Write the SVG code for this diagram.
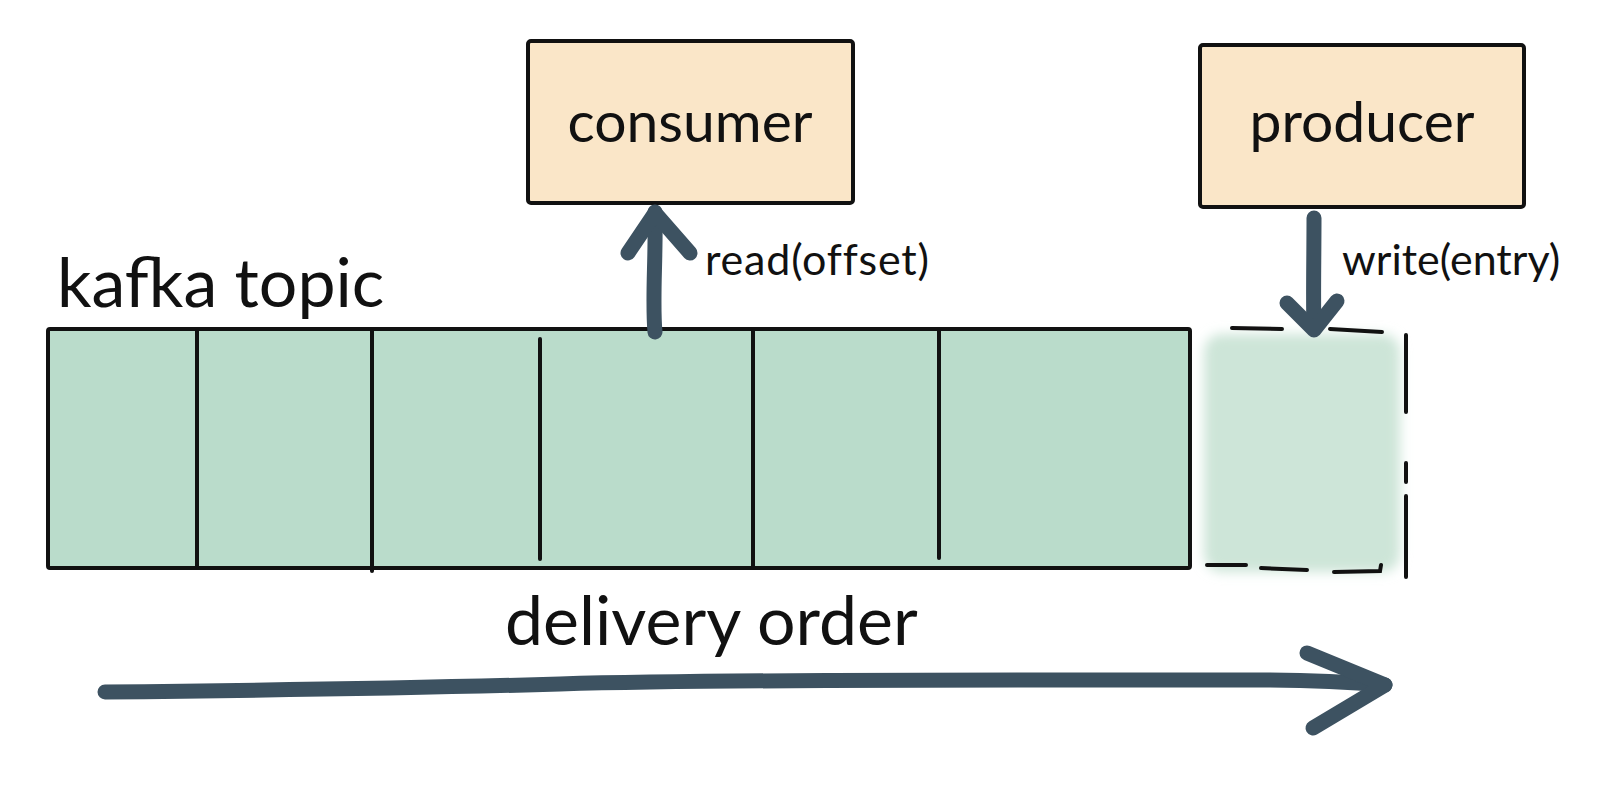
<svg xmlns="http://www.w3.org/2000/svg" width="1600" height="791" viewBox="0 0 1600 791">
<defs>
<filter id="wash" x="-20%" y="-20%" width="140%" height="140%">
<feGaussianBlur stdDeviation="6"/>
</filter>
</defs>
<style>
.box{fill:#fae6c8;stroke:#111;stroke-width:4;stroke-linejoin:round}
.topic{fill:#badccb;stroke:#111;stroke-width:4;stroke-linejoin:round}
.div{stroke:#111;stroke-width:4;stroke-linecap:round;fill:none}
.dash{stroke:#111;stroke-width:4;stroke-linecap:round;fill:none}
.arrow{stroke:#3d5261;stroke-width:15;stroke-linecap:round;stroke-linejoin:round;fill:none}
.big{font-family:Lato,"Liberation Sans",sans-serif;font-size:68px;fill:#111}
.node{font-family:Lato,"Liberation Sans",sans-serif;font-size:57px;fill:#111}
.small{font-family:Lato,"Liberation Sans",sans-serif;font-size:43px;fill:#111}
</style>
<rect width="1600" height="791" fill="#fff"/>
<g id="kafka-topic">
<text class="big" x="57" y="307" font-size="66">kafka topic</text>
<rect class="topic" x="48" y="329" width="1142" height="239" rx="2"/>
<line class="div" x1="197" y1="331" x2="197" y2="567"/>
<line class="div" x1="372" y1="331" x2="372" y2="571"/>
<line class="div" x1="540" y1="339" x2="540" y2="559"/>
<line class="div" x1="753" y1="331" x2="753" y2="566"/>
<line class="div" x1="939" y1="331" x2="939" y2="558"/>
</g>
<g id="new-entry">
<rect x="1204" y="334" width="196" height="238" rx="18" fill="#cde5d8" filter="url(#wash)"/>
<path class="dash" d="M1232 328 L1282 329 M1330 329 L1382 332 M1406 335 L1406 412 M1406 463 L1406 482 M1406 496 L1406 577 M1207 565 L1246 565 M1261 568 L1307 570 M1334 572 L1380 571 L1381 565"/>
</g>
<g id="consumer">
<rect class="box" x="528" y="41" width="325" height="162" rx="3"/>
<text class="node" x="690" y="142" text-anchor="middle">consumer</text>
</g>
<g id="producer">
<rect class="box" x="1200" y="45" width="324" height="162" rx="3"/>
<text class="node" x="1362" y="142" text-anchor="middle">producer</text>
</g>
<g id="delivery-order">
<text class="big" x="505" y="645">delivery order</text>
</g>
<g id="connectors">
<path class="arrow" d="M655 332 C652 300 656 260 655 212"/>
<path class="arrow" d="M628 253 L655 213 L690 253"/>
<path class="arrow" d="M1314 218 C1314 260 1313 300 1314 329"/>
<path class="arrow" d="M1287 303 L1314 330 L1337 301"/>
<path class="arrow" d="M105 692 C300 690 420 688 560 684 C700 680 900 680 1250 680 C1320 680 1360 683 1385 685"/>
<path class="arrow" d="M1307 653 L1385 685 L1313 728"/>
<text class="small" x="705" y="275" letter-spacing="0.8">read(offset)</text>
<text class="small" x="1342" y="275">write(entry)</text>
</g>
</svg>
